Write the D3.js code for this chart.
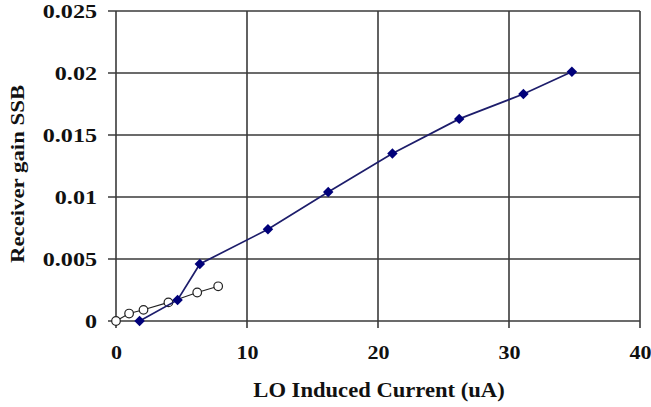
<!DOCTYPE html>
<html>
<head>
<meta charset="utf-8">
<script src="https://cdn.jsdelivr.net/npm/d3@7"></script>
<style>
	body { margin: 0; background: #fff; }
	text { font-family: "Liberation Serif", "Times New Roman", serif; font-weight: bold; fill: #111; }
</style>
</head>
<body>
<svg id="graph" width="651" height="407"></svg>
<script>
// data
var ssbCurrent = [1.8, 4.7, 6.4, 11.6, 16.2, 21.1, 26.2, 31.1, 34.8];
var ssbGain    = [0.0, 0.0017, 0.0046, 0.0074, 0.0104, 0.0135, 0.0163, 0.0183, 0.0201];
var openCurrent = [0, 1.0, 2.1, 4.0, 6.2, 7.8];
var openGain    = [0.0, 0.0006, 0.0009, 0.0015, 0.0023, 0.0028];
var xTicks = [0, 10, 20, 30, 40];
var yTicks = [0, 0.005, 0.01, 0.015, 0.02, 0.025];

var svg = d3.select("#graph");

var plotLeft = 116, plotRight = 640, plotTop = 11, plotBottom = 321;

var xScale = d3.scaleLinear().domain([0, 40]).range([plotLeft, plotRight]),
	yScale = d3.scaleLinear().domain([0, 0.025]).range([plotBottom, plotTop]);

var gridColor = "#3a3a3a";

// grid
svg.append("g")
	.selectAll("line")
	.data(yTicks)
	.enter().append("line")
	.attr("x1", plotLeft - 8)
	.attr("x2", plotRight)
	.attr("y1", function(d) { return yScale(d); })
	.attr("y2", function(d) { return yScale(d); })
	.attr("stroke", gridColor)
	.attr("stroke-width", 1.6);

svg.append("g")
	.selectAll("line")
	.data(xTicks)
	.enter().append("line")
	.attr("x1", function(d) { return xScale(d); })
	.attr("x2", function(d) { return xScale(d); })
	.attr("y1", plotTop)
	.attr("y2", plotBottom + 7)
	.attr("stroke", gridColor)
	.attr("stroke-width", 1.6);

// axes (labels only, lines come from the grid)
var xAxis = svg.append("g")
	.attr("transform", "translate(0," + plotBottom + ")")
	.call(d3.axisBottom(xScale).tickValues(xTicks).tickSize(0).tickPadding(25).tickFormat(d3.format("d")));

var yAxis = svg.append("g")
	.attr("transform", "translate(" + plotLeft + ",0)")
	.call(d3.axisLeft(yScale).tickValues(yTicks).tickSize(0).tickPadding(19).tickFormat(function(d) { return d === 0 ? "0" : String(+d.toFixed(3)); }));

svg.selectAll(".domain").remove();

xAxis.selectAll("text").style("font-size", "19px").attr("fill", "#111").attr("dy", "0.71em");
yAxis.selectAll("text").style("font-size", "19px").attr("fill", "#111").attr("dy", "0.34em");

// the picture is stretched sideways, widen the glyphs to match
function stretch(sel, f) {
	sel.each(function() {
		var w = this.getComputedTextLength();
		d3.select(this).attr("textLength", w * f).attr("lengthAdjust", "spacingAndGlyphs");
	});
}
stretch(xAxis.selectAll("text"), 1.16);
stretch(yAxis.selectAll("text"), 1.27);

// axis titles
var xt = svg.append("text")
	.attr("x", (plotLeft + plotRight) / 2 + 1)
	.attr("y", 397)
	.attr("text-anchor", "middle")
	.style("font-size", "20px")
	.text("LO Induced Current (uA)");
stretch(xt, 1.13);

var yt = svg.append("text")
	.attr("transform", "translate(24,174) rotate(-90)")
	.attr("text-anchor", "middle")
	.style("font-size", "19px")
	.text("Receiver gain SSB");
stretch(yt, 1.2);

// open circle series
var openData = openCurrent.map(function(d, i) { return {x: d, y: openGain[i]}; });

svg.append("path")
	.datum(openData)
	.attr("d", d3.line()
		.x(function(d) { return xScale(d.x); })
		.y(function(d) { return yScale(d.y); }))
	.attr("fill", "none")
	.attr("stroke", "#222")
	.attr("stroke-width", 1.1);

svg.append("g")
	.selectAll("circle")
	.data(openData)
	.enter().append("circle")
	.attr("cx", function(d) { return xScale(d.x); })
	.attr("cy", function(d) { return yScale(d.y); })
	.attr("r", 4.3)
	.attr("fill", "#fff")
	.attr("stroke", "#222")
	.attr("stroke-width", 1.2);

// diamond series
var ssbData = ssbCurrent.map(function(d, i) { return {x: d, y: ssbGain[i]}; });

svg.append("path")
	.datum(ssbData)
	.attr("d", d3.line()
		.x(function(d) { return xScale(d.x); })
		.y(function(d) { return yScale(d.y); }))
	.attr("fill", "none")
	.attr("stroke", "#1d1d6b")
	.attr("stroke-width", 1.7);

svg.append("g")
	.selectAll("path")
	.data(ssbData)
	.enter().append("path")
	.attr("transform", function(d) { return "translate(" + xScale(d.x) + "," + yScale(d.y) + ")"; })
	.attr("d", d3.symbol().type(d3.symbolDiamond2).size(70))
	.attr("fill", "#00007a");
</script>
</body>
</html>
